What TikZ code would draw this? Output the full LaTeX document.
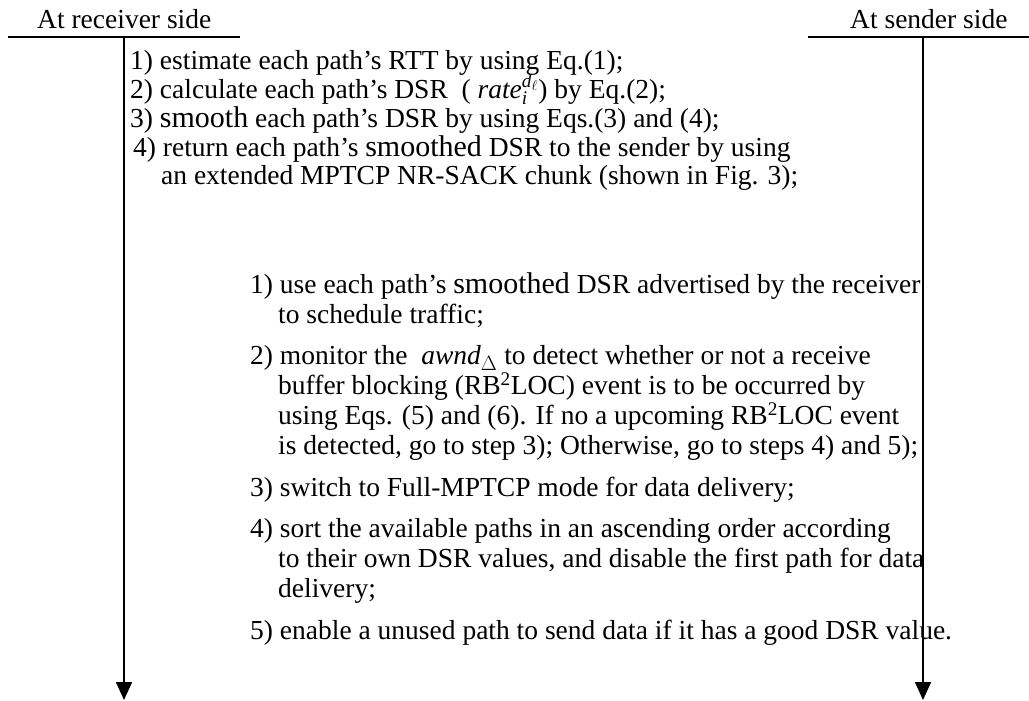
\documentclass[tikz,border=0pt]{standalone}
\usepackage{fontspec}
\setmainfont{Liberation Serif}
\usetikzlibrary{arrows.meta}
\newcommand{\bigw}[1]{{\fontsize{30}{30}\selectfont #1}}

\begin{document}
\begin{tikzpicture}
    [
    x=1pt, y=-1pt, font=\fontsize{27.5}{29}\selectfont, >={Triangle[width=16pt,length=18pt]},
    %Voreinstellungen
    axis/.style={line width=1.6pt},
    txt/.style={anchor=base west, inner sep=0pt}
    ]
    \useasboundingbox (0,0) rectangle (1029,701);

    %Ueberschriften
    \node[txt] (rhead) at (37,29) {At receiver side};
    \node[txt] (shead) at (850,29) {At sender side};

    %Linien oben
    \coordinate (rl) at (8,37);
    \coordinate (rr) at (240,37);
    \coordinate (sl) at (808,37);
    \coordinate (sr) at (1029,37);
    \draw[axis] (rl) -- (rr);
    \draw[axis] (sl) -- (sr);

    %Zeitachsen
    \coordinate (rtop) at (124,37);
    \coordinate (rbot) at (124,700);
    \coordinate (stop) at (923,37);
    \coordinate (sbot) at (923,700);
    \draw[axis,->] (rtop) -- (rbot);
    \draw[axis,->] (stop) -- (sbot);

    %Empfaenger
    \node[txt] (r1) at (130,70) {1) estimate each path’s RTT by using Eq.(1);};
    \node[txt] (r2) at (130,99) {2) calculate each path’s DSR~~( $\mathit{rate}_{\mathit{i}}^{\mathit{d}_{\ell}}$) by Eq.(2);};
    \node[txt] (r3) at (130,127.5) {3) \bigw{smooth} each path’s DSR by using Eqs.(3) and (4);};
    \node[txt] (r4) at (133,156) {4) return each path’s \bigw{smoothed} DSR to the sender by using};
    \node[txt] (r4b) at (161,184.5) {an extended MPTCP NR-SACK chunk (shown in Fig. 3);};

    %Sender
    \node[txt] (s1) at (250,293) {1) use each path’s \bigw{smoothed} DSR advertised by the receiver};
    \node[txt] (s1b) at (278,323) {to schedule traffic;};
    \node[txt] (s2) at (250,364.5) {2) monitor the~~$\mathit{awnd}_{\Delta}$ to detect whether or not a receive};
    \node[txt] (s2b) at (278,394.5) {buffer blocking (RB\textsuperscript{2}LOC) event is to be occurred by};
    \node[txt] (s2c) at (278,424.5) {using Eqs. (5) and (6). If no a upcoming RB\textsuperscript{2}LOC event};
    \node[txt] (s2d) at (278,454.5) {is detected, go to step 3); Otherwise, go to steps 4) and 5);};
    \node[txt] (s3) at (250,496) {3) switch to Full-MPTCP mode for data delivery;};
    \node[txt] (s4) at (250,537.5) {4) sort the available paths in an ascending order according};
    \node[txt] (s4b) at (278,567.5) {to their own DSR values, and disable the first path for data};
    \node[txt] (s4c) at (278,597.5) {delivery;};
    \node[txt] (s5) at (250,639) {5) enable a unused path to send data if it has a good DSR value.};
\end{tikzpicture}
\end{document}
